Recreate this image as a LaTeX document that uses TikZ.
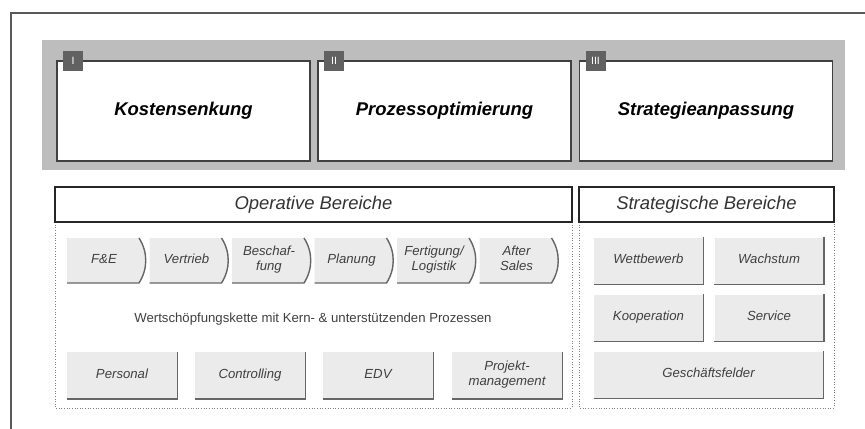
\documentclass[tikz,border=0pt]{standalone}
\usepackage{fontspec}
\setmainfont{Liberation Sans}
\tikzset{
  topbox/.style={draw=black!75, line width=.9pt, fill=white, minimum width=5.06cm, minimum height=2cm, font=\fontsize{10.5}{12}\selectfont\bfseries\itshape},
  badge/.style={fill=black!62, text=white, minimum width=.4cm, minimum height=.4cm, inner sep=0pt, font=\fontsize{6}{7}\selectfont},
  headbox/.style={draw=black!85, line width=1pt, fill=white, minimum height=.7cm, font=\fontsize{10.5}{12}\selectfont\itshape, text=black!80},
  area/.style={draw=black!50, densely dotted, line width=.5pt},
  chevtext/.style={align=center, font=\fontsize{7.5}{8.5}\selectfont\itshape, text=black!75, execute at begin node=\strut, execute at end node=\strut},
  tile/.style={fill=black!8, minimum width=2.2cm, minimum height=.93cm, inner sep=1pt, align=center, font=\fontsize{7.5}{8.5}\selectfont\itshape, text=black!75, execute at begin node=\strut, execute at end node=\strut},
  tileedge/.style={draw=black!60, line width=.8pt},
}
\begin{document}
\begin{tikzpicture}[x=.02cm, y=-.02cm]
\useasboundingbox (0,0) rectangle (865,429);
\draw[black!65, line width=.8pt] (11,429) -- (11,13) -- (865,13);
\fill[black!26] (42,40) rectangle (845,170);
\foreach \x/\r/\n [count=\k] in {183.5/I/Kostensenkung,444.5/II/Prozessoptimierung,706/III/Strategieanpassung}{
    \node[topbox] (ziel\k) at (\x,111) {\n};
    \node[badge] (nr\k) at (\x-110.5,61) {\r};
}
\draw[area] (55,222) rectangle (572,408);
\draw[area] (579,222) rectangle (834,408);
\node[headbox, minimum width=10.34cm] (op) at (313.5,204.5) {Operative Bereiche};
\node[headbox, minimum width=5.1cm] (st) at (706.5,204.5) {Strategische Bereiche};
\foreach \i/\n in {0/F\&E,1/Vertrieb,2/{Beschaf-\\fung},3/Planung,4/{Fertigung/\\Logistik},5/{After\\Sales}}{
    \pgfmathsetmacro\cx{67+82.5*\i}
    \fill[black!8] (\cx,238) -- (\cx+72,238) .. controls (\cx+81,252) and (\cx+81,269) .. (\cx+72,283) -- (\cx,283) -- cycle;
    \draw[black!60, line width=.8pt] (\cx,283) -- (\cx+72,283) .. controls (\cx+81,269) and (\cx+81,252) .. (\cx+72,238);
    \node[chevtext] (kette\i) at (\cx+37,260.5) {\n};
}
\node[font=\fontsize{7.5}{9}\selectfont, text=black!75] (wsk) at (313,319) {Wertschöpfungskette mit Kern- \& unterstützenden Prozessen};
\foreach \x/\n [count=\k] in {67/Personal,195/Controlling,323/EDV,452/{Projekt-\\management}}{
    \node[tile] (sup\k) at (\x+55,375.5) {\n};
    \draw[tileedge] (sup\k.north east) -- (sup\k.south east) -- (sup\k.south west);
}
\foreach \x/\y/\n [count=\k] in {648.5/261/Wettbewerb,769/261/Wachstum,648.5/318/Kooperation,769/318/Service}{
    \node[tile, minimum width=2.18cm] (str\k) at (\x,\y) {\n};
    \draw[tileedge] (str\k.north east) -- (str\k.south east) -- (str\k.south west);
}
\node[tile, minimum width=4.58cm] (str5) at (708.5,375) {Geschäftsfelder};
\draw[tileedge] (str5.north east) -- (str5.south east) -- (str5.south west);
\end{tikzpicture}
\end{document}
